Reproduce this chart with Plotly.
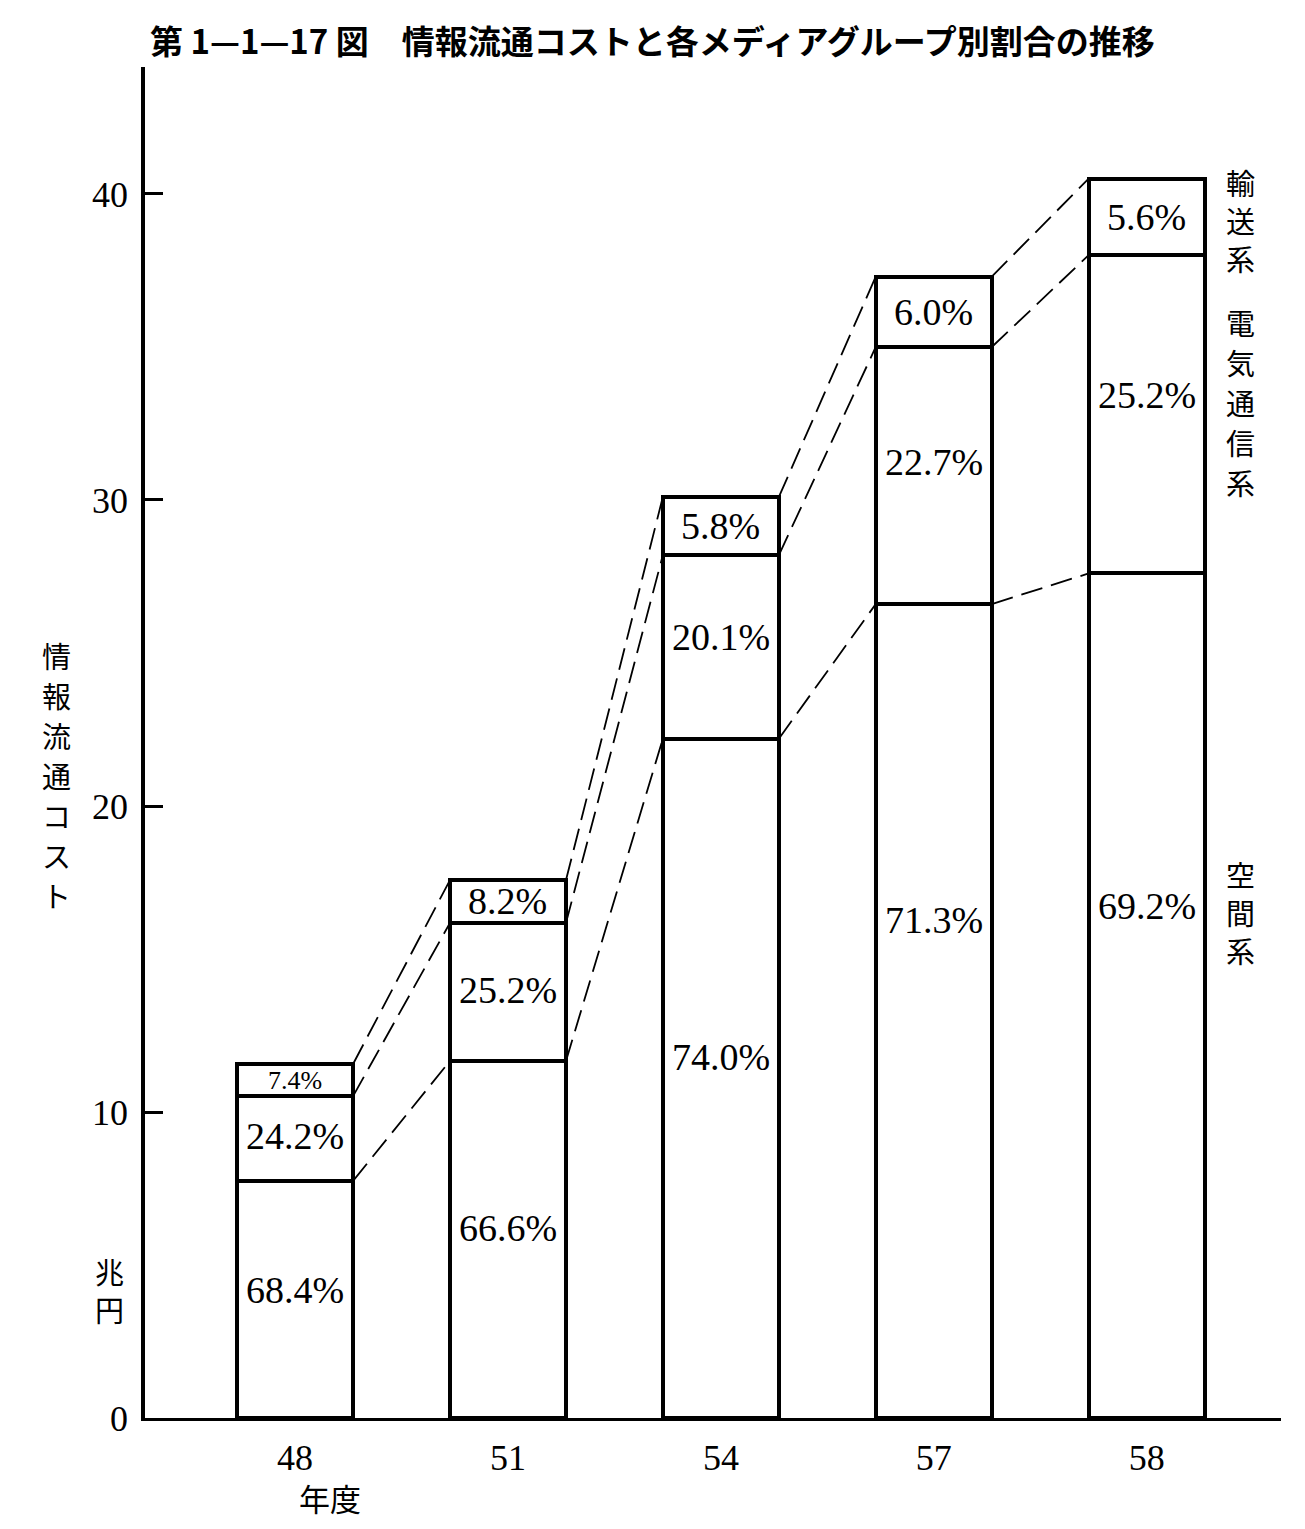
import plotly.graph_objects as go

# ---- data (兆円) ----
years = ["48", "51", "54", "57", "58"]
space = [7.75, 11.67, 22.2, 26.6, 27.6]        # 空間系
telecom = [2.77, 4.51, 6.0, 8.4, 10.4]          # 電気通信系
transport = [1.05, 1.40, 1.9, 2.3, 2.5]         # 輸送系
space_pct = ["68.4%", "66.6%", "74.0%", "71.3%", "69.2%"]
telecom_pct = ["24.2%", "25.2%", "20.1%", "22.7%", "25.2%"]
transport_pct = ["7.4%", "8.2%", "5.8%", "6.0%", "5.6%"]
y_ticks = [0, 10, 20, 30, 40]

# ---- label placement (data units) ----
space_lab_y = [4.18, 6.21, 11.8, 16.27, 16.73]
telecom_lab_y = [9.22, 13.99, 25.52, 31.24, 33.43]

xs = list(range(len(years)))
BW = 0.545
SERIF = "Liberation Serif"
CJK = "Noto Sans CJK JP"

fig = go.Figure()
bar_line = dict(color="black", width=4)
for vals in (space, telecom, transport):
    fig.add_trace(go.Bar(x=xs, y=vals, width=BW,
                         marker=dict(color="white", line=bar_line),
                         showlegend=False, hoverinfo="skip"))

# dashed connecting lines at each boundary level
lvl1 = space
lvl2 = [a + b for a, b in zip(space, telecom)]
lvl3 = [a + b + c for a, b, c in zip(space, telecom, transport)]
for lvl in (lvl1, lvl2, lvl3):
    lx, ly = [], []
    for i in range(len(xs) - 1):
        lx += [xs[i] + BW / 2, xs[i + 1] - BW / 2, None]
        ly += [lvl[i], lvl[i + 1], None]
    fig.add_trace(go.Scatter(x=lx, y=ly, mode="lines",
                             line=dict(color="black", width=1.8, dash="22px,9px"),
                             showlegend=False, hoverinfo="skip"))

PCT = dict(family=SERIF, size=38, color="black")
ann = []
for i in xs:
    ann.append(dict(x=i, y=space_lab_y[i], xref="x", yref="y", text=space_pct[i],
                    xanchor="center", yanchor="middle", showarrow=False, font=PCT))
    ann.append(dict(x=i, y=telecom_lab_y[i], xref="x", yref="y", text=telecom_pct[i],
                    xanchor="center", yanchor="middle", showarrow=False, font=PCT))
    ann.append(dict(x=i, y=lvl2[i] + transport[i] / 2, xref="x", yref="y",
                    text=transport_pct[i], showarrow=False,
                    xanchor="center", yanchor="middle",
                    font=dict(family=SERIF, size=26 if i == 0 else 38, color="black")))


def vertical(x, y, s, pitch=40, size=29):
    """Stack characters vertically, centred on paper point (x, y)."""
    n = len(s)
    out = []
    for k, ch in enumerate(s):
        off = ((n - 1) / 2 - k) * pitch
        out.append(dict(x=x, y=y, xref="paper", yref="paper", text=ch,
                        xanchor="center", yanchor="middle", yshift=off,
                        showarrow=False,
                        font=dict(family=CJK, size=size, color="black")))
    return out


ann += vertical(-0.0775, 0.476, "情報流通コスト", 40)
ann += vertical(-0.031, 0.0947, "兆円", 38)
ann += vertical(0.964, 0.887, "輸送系", 38)
ann += vertical(0.964, 0.752, "電気通信系", 40)
ann += vertical(0.964, 0.3745, "空間系", 38)
ann += [
    dict(x=0.164, y=-0.0585, xref="x", yref="paper", text="年度",
         xanchor="center", yanchor="middle",
         showarrow=False, font=dict(family=CJK, size=31, color="black")),
    dict(x=0.0, y=1.0, xref="paper", yref="paper", xanchor="left", yanchor="middle",
         xshift=3, yshift=(67 - 40),
         text="<b>第 1—1—17 図　情報流通コストと各メディアグループ別割合の推移</b>",
         showarrow=False, font=dict(family=CJK, size=33, color="black")),
]

fig.update_layout(
    width=1297, height=1521,
    margin=dict(l=137, r=24, t=59, b=111),
    paper_bgcolor="white", plot_bgcolor="white",
    barmode="stack", bargap=0,
    annotations=ann,
    xaxis=dict(range=[-0.705, 4.631], tickvals=xs, ticktext=years,
               showgrid=False, zeroline=False, showline=True, linecolor="black",
               linewidth=3, ticks="", ticklabelstandoff=6,
               tickfont=dict(family=SERIF, size=36, color="black")),
    yaxis=dict(range=[0, 44.15], tickvals=y_ticks, showgrid=False, zeroline=False,
               showline=True, linecolor="black", linewidth=3.5,
               ticks="inside", ticklen=18, tickwidth=2.5, tickcolor="black",
               ticklabelstandoff=6,
               tickfont=dict(family=SERIF, size=36, color="black")),
)

fig.write_html("out.html")
